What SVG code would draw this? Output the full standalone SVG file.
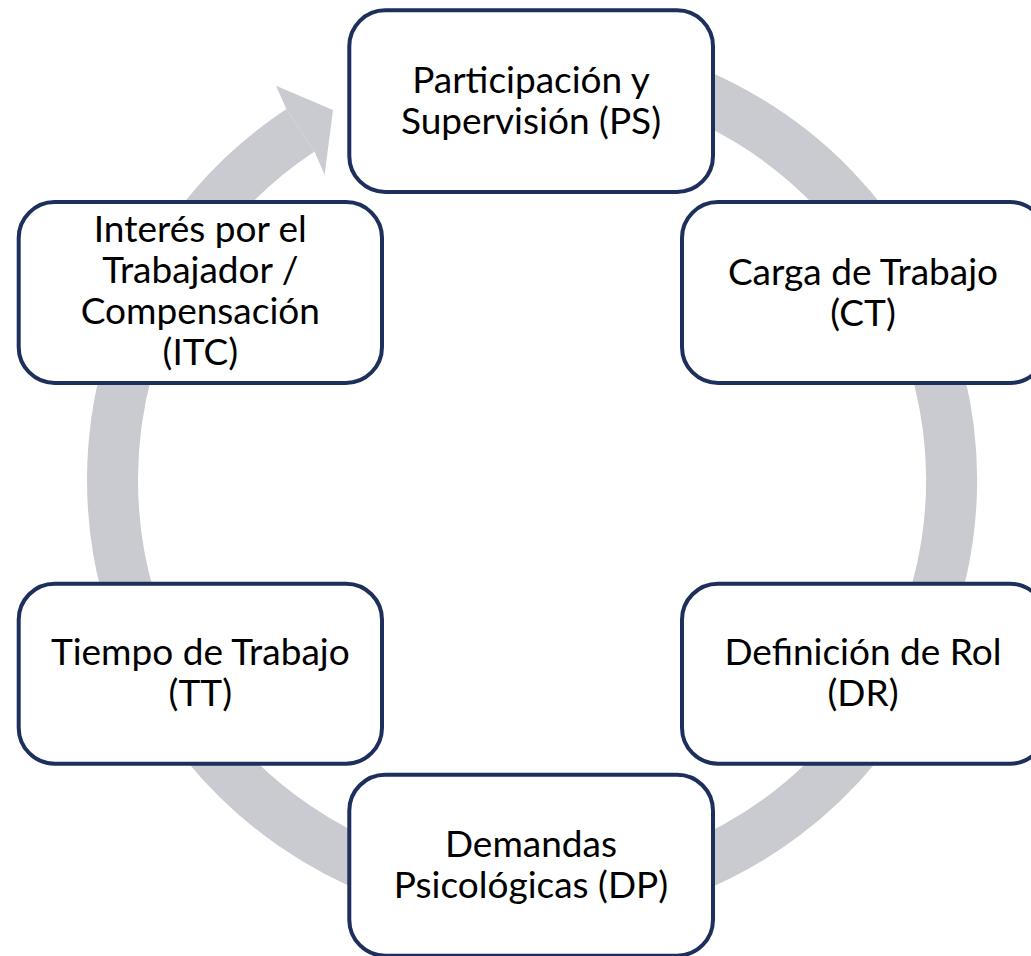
<svg xmlns="http://www.w3.org/2000/svg" width="1031" height="956" viewBox="0 0 1031 956">
  <style>
    .box { fill: #ffffff; stroke: #1D2F5C; stroke-width: 4; }
    .lbl { font-family: Lato, "Open Sans", "Liberation Sans", sans-serif; font-size: 37px; fill: #000000; text-anchor: middle; }
    .ring { fill: none; stroke: #CACBD1; stroke-width: 51; stroke-linecap: butt; }
    .head { fill: #CACBD1; }
  </style>
  <rect width="1031" height="956" fill="#ffffff"/>
  <g id="connectors">
    <path class="ring" d="M 459.2 66.9 A 419.5 419.5 0 1 1 300.5 130.2"/>
    <polygon class="head" points="286.4,108.9 276,85.8 333,110 324.6,174.8 314.5,151.5"/>
  </g>
  <g id="node-ps">
    <rect class="box" x="349.3" y="10.3" width="363.7" height="181.7" rx="36" ry="36"/>
    <text class="lbl" x="531" y="93">Participación y</text>
    <text class="lbl" x="531" y="134">Supervisión (PS)</text>
  </g>
  <g id="node-ct">
    <rect class="box" x="682" y="202" width="364" height="181" rx="36" ry="36"/>
    <text class="lbl" x="863" y="284.5">Carga de Trabajo</text>
    <text class="lbl" x="863" y="325.5">(CT)</text>
  </g>
  <g id="node-dr">
    <rect class="box" x="682" y="583.7" width="364" height="180" rx="36" ry="36"/>
    <text class="lbl" x="863" y="665">Definición de Rol</text>
    <text class="lbl" x="863" y="706">(DR)</text>
  </g>
  <g id="node-dp">
    <rect class="box" x="349.3" y="774.7" width="363.7" height="181" rx="36" ry="36"/>
    <text class="lbl" x="531" y="857">Demandas</text>
    <text class="lbl" x="531" y="898">Psicológicas (DP)</text>
  </g>
  <g id="node-tt">
    <rect class="box" x="18.7" y="583.7" width="363.3" height="180" rx="36" ry="36"/>
    <text class="lbl" x="200.3" y="665">Tiempo de Trabajo</text>
    <text class="lbl" x="200.3" y="706">(TT)</text>
  </g>
  <g id="node-itc">
    <rect class="box" x="18.7" y="202" width="363.3" height="181" rx="36" ry="36"/>
    <text class="lbl" x="200.3" y="242">Interés por el</text>
    <text class="lbl" x="200.3" y="283">Trabajador /</text>
    <text class="lbl" x="200.3" y="324">Compensación</text>
    <text class="lbl" x="200.3" y="365">(ITC)</text>
  </g>
</svg>
